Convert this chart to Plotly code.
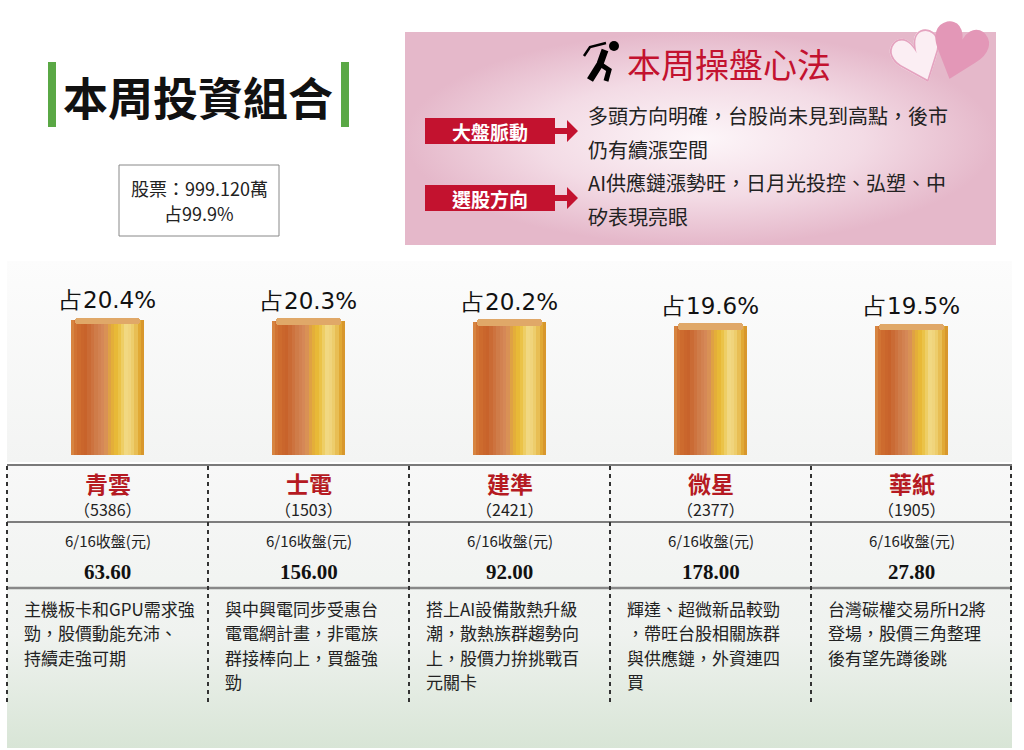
import plotly.graph_objects as go
from plotly.colors import sample_colorscale

# 本周投資組合 — data
stocks = ['青雲', '士電', '建準', '微星', '華紙']
codes = ['5386', '1503', '2421', '2377', '1905']
weights = [20.4, 20.3, 20.2, 19.6, 19.5]
close_prices = ['63.60', '156.00', '92.00', '178.00', '27.80']
price_header = '6/16收盤(元)'
notes = [
    ['主機板卡和GPU需求強', '勁，股價動能充沛、', '持續走強可期'],
    ['與中興電同步受惠台', '電電網計畫，非電族', '群接棒向上，買盤強', '勁'],
    ['搭上AI設備散熱升級', '潮，散熱族群趨勢向', '上，股價力拚挑戰百', '元關卡'],
    ['輝達、超微新品較勁', '，帶旺台股相關族群', '與供應鏈，外資連四', '買'],
    ['台灣碳權交易所H2將', '登場，股價三角整理', '後有望先蹲後跳'],
]
stock_total = '股票：999.120萬'
stock_share = '占99.9%'
tips_labels = ['大盤脈動', '選股方向']
tips_text = [
    ['多頭方向明確，台股尚未見到高點，後市', '仍有續漲空間'],
    ['AI供應鏈漲勢旺，日月光投控、弘塑、中', '矽表現亮眼'],
]

W, H = 1024, 750
CJK = 'Noto Sans CJK TC'
RED = '#c3122f'

fig = go.Figure()

# decor layer uses pixel coordinates (x / y axes)
def rect_fill(x0, y0, x1, y1, grad):
    fig.add_trace(go.Scatter(x=[x0, x1, x1, x0, x0], y=[y0, y0, y1, y1, y0],
                             mode='lines', line=dict(width=0), fill='toself',
                             fillgradient=grad, hoverinfo='skip', showlegend=False,
                             xaxis='x', yaxis='y'))

# pink panel
rect_fill(405, 32, 996, 245, dict(type='radial',
                                 colorscale=[[0, '#fdf6f9'], [0.55, '#f3dbe5'], [1, '#e5b8ca']]))
# chart background
rect_fill(7, 261, 1012, 462, dict(type='vertical', start=261, stop=462,
                                 colorscale=[[0, '#fcfcfc'], [1, '#f3f4f3']]))
# table background
rect_fill(7, 465, 1012, 748, dict(type='vertical', start=465, stop=748,
                                 colorscale=[[0, '#f8f8f8'], [0.6, '#eff2ef'], [1, '#d8e5d6']]))

# golf icon (rough)
fig.add_trace(go.Scatter(x=[584, 590, 606], y=[56, 47, 43], mode='lines', line=dict(color='black', width=2.5),
                         hoverinfo='skip', showlegend=False))
fig.add_trace(go.Scatter(x=[605, 600, 590], y=[50, 64, 80], mode='lines', line=dict(color='black', width=7),
                         hoverinfo='skip', showlegend=False))
fig.add_trace(go.Scatter(x=[600, 609, 606], y=[64, 70, 81], mode='lines', line=dict(color='black', width=5),
                         hoverinfo='skip', showlegend=False))
fig.add_trace(go.Scatter(x=[614], y=[46], mode='markers', marker=dict(color='black', size=10),
                         hoverinfo='skip', showlegend=False))

# cylinders: vertical strips of bars with a metallic gradient
cyl_scale = [[0.0, '#da8d47'], [0.08, '#cf6f30'], [0.2, '#c8622a'], [0.36, '#d07f4d'],
             [0.46, '#d78b5b'], [0.55, '#e3aa3a'], [0.63, '#e9bd36'], [0.76, '#f2da88'],
             [0.86, '#ecca66'], [0.94, '#e0a52f'], [1.0, '#d38f2a']]
n_strips = 22
bar_w = 0.365
xs = list(range(len(stocks)))
strip_w = bar_w / n_strips
colors = sample_colorscale(cyl_scale, [(j + 0.5) / n_strips for j in range(n_strips)])
for j in range(n_strips):
    fig.add_trace(go.Bar(x=xs, y=weights, width=strip_w * 1.08,
                         offset=-bar_w / 2 + j * strip_w,
                         marker=dict(color=colors[j], line=dict(width=0)),
                         hoverinfo='skip', showlegend=False, xaxis='x2', yaxis='y2'))
# top cap
fig.add_trace(go.Bar(x=xs, y=[1.0] * len(xs), base=[v - 0.6 for v in weights], width=bar_w * 0.88,
                     marker=dict(color='#e0a868', line=dict(width=0), cornerradius=6),
                     hoverinfo='skip', showlegend=False, xaxis='x2', yaxis='y2'))

shapes = []
annotations = []

def px_text(x, y, text, size, color='#222', family=CJK, xanchor='center', yanchor='middle', **kw):
    annotations.append(dict(x=x, y=y, xref='x', yref='y', text=text, showarrow=False,
                            font=dict(size=size, color=color, family=family),
                            xanchor=xanchor, yanchor=yanchor, **kw))

# title
shapes.append(dict(type='rect', xref='x', yref='y', x0=48, x1=56, y0=62, y1=127,
                   fillcolor='#5aa845', line=dict(width=0)))
shapes.append(dict(type='rect', xref='x', yref='y', x0=341, x1=349, y0=62, y1=127,
                   fillcolor='#5aa845', line=dict(width=0)))
px_text(198, 96, '<b>本周投資組合</b>', 45, color='#111')

# stock total box
shapes.append(dict(type='rect', xref='x', yref='y', x0=119, x1=279, y0=165, y1=236,
                   fillcolor='white', line=dict(color='#888', width=1)))
px_text(199, 188, stock_total, 18)
px_text(199, 213, stock_share, 18)

# tips panel
px_text(729, 63, '本周操盤心法', 34, color=RED)
for i, lab in enumerate(tips_labels):
    yc = 131 + i * 67
    shapes.append(dict(type='rect', xref='x', yref='y', x0=425, x1=555, y0=yc - 13, y1=yc + 13,
                       fillcolor=RED, line=dict(width=0)))
    shapes.append(dict(type='path', xref='x', yref='y',
                       path=f'M555,{yc - 3} L567,{yc - 3} L567,{yc - 11} L578,{yc} L567,{yc + 11} '
                            f'L567,{yc + 3} L555,{yc + 3} Z',
                       fillcolor=RED, line=dict(width=0)))
    px_text(490, yc, '<b>' + lab + '</b>', 19, color='white')
    for k, line in enumerate(tips_text[i]):
        px_text(586, yc - 16 + k * 34, line, 20, color='#222', xanchor='left')

# hearts
px_text(919, 60, '♥', 70, color='#fbeef3', family='DejaVu Sans', textangle=-22)
px_text(919, 60, '♡', 70, color='#e4a3bf', family='DejaVu Sans', textangle=-22)
px_text(958, 53, '♥', 76, color='#e397b7', family='DejaVu Sans', textangle=18)

# table lines
col_left, col_w = 7, 201
shapes.append(dict(type='line', xref='x', yref='y', x0=7, x1=1012, y0=465, y1=465,
                   line=dict(color='#7a7a7a', width=2)))
shapes.append(dict(type='line', xref='x', yref='y', x0=7, x1=1012, y0=522, y1=522,
                   line=dict(color='#555', width=1.5)))
shapes.append(dict(type='line', xref='x', yref='y', x0=7, x1=1012, y0=588, y1=588,
                   line=dict(color='#888', width=2.5)))
for c in range(len(stocks) + 1):
    xv = col_left + c * col_w - (1 if c == len(stocks) else 0)
    shapes.append(dict(type='line', xref='x', yref='y', x0=xv, x1=xv, y0=466, y1=705,
                       line=dict(color='#333', width=2, dash='4px,4px')))

line_gap = 24.6
for i in range(len(stocks)):
    cx = col_left + col_w * (i + 0.5)
    px_text(cx, 483, '<b>' + stocks[i] + '</b>', 23, color='#b51a22')
    px_text(cx, 509, '（' + codes[i] + '）', 16, color='#222')
    px_text(cx, 540, price_header, 15, color='#222')
    px_text(cx, 572, '<b>' + close_prices[i] + '</b>', 21, color='#111', family='Liberation Serif')
    for k, line in enumerate(notes[i]):
        px_text(col_left + col_w * i + 15, 608 + k * line_gap, line, 17, color='#222', xanchor='left')

# weight labels over the cylinders
for i, v in enumerate(weights):
    annotations.append(dict(x=i, y=v, xref='x2', yref='y2', text=f'占{v:.1f}%', showarrow=False,
                            yshift=20, yanchor='middle',
                            font=dict(size=23, color='#111', family='DejaVu Sans')))

px_per_unit = 6.6
fig.update_layout(
    width=W, height=H,
    margin=dict(l=0, r=0, t=0, b=0),
    paper_bgcolor='white', plot_bgcolor='rgba(0,0,0,0)',
    barmode='overlay', bargap=0,
    showlegend=False,
    xaxis=dict(domain=[0, 1], range=[0, W], visible=False, fixedrange=True),
    yaxis=dict(domain=[0, 1], range=[H, 0], visible=False, fixedrange=True),
    xaxis2=dict(domain=[7 / W, 1012 / W], range=[-0.5, len(stocks) - 0.5], visible=False,
                anchor='y2', fixedrange=True),
    yaxis2=dict(domain=[(H - 455) / H, (H - 261) / H], range=[0, (455 - 261) / px_per_unit],
                visible=False, anchor='x2', fixedrange=True),
    shapes=shapes,
    annotations=annotations,
)

# page margin off so the figure sits at the window's corner
fig.write_html('out.html', config={'displayModeBar': False},
               post_script="document.body.style.margin='0';")
